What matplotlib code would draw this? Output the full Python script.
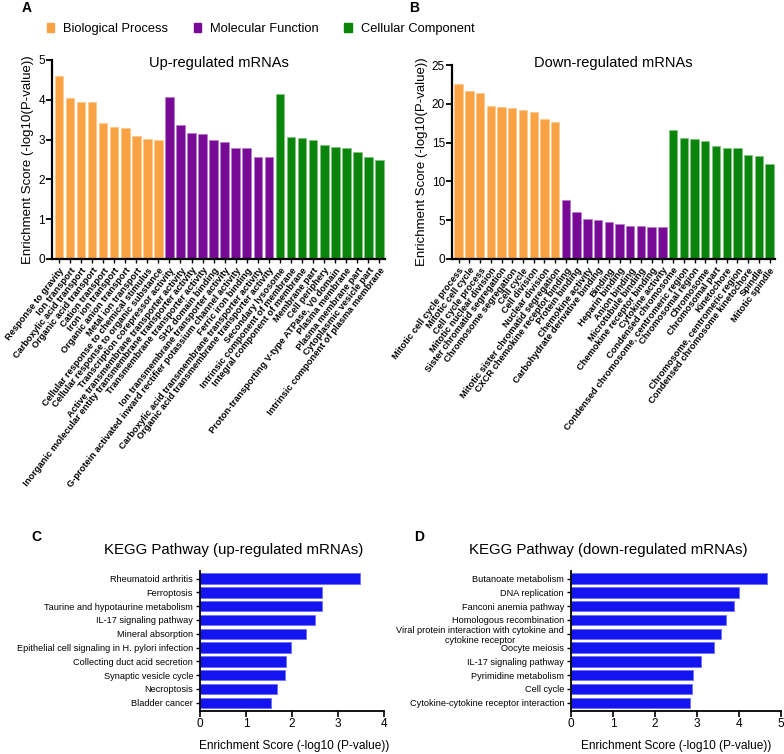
import matplotlib
matplotlib.use('Agg')
import matplotlib.pyplot as plt
from matplotlib.patches import Patch

plt.rcParams['font.family'] = ['Liberation Sans', 'DejaVu Sans']

# GO enrichment, up-regulated mRNAs (10 BP, 10 MF, 10 CC)
up_terms = [
    'Response to gravity', 'Ion transport', 'Carboxylic acid transport',
    'Organic acid transport', 'Cation transport', 'Iron ion transport',
    'Organic anion transport', 'Metal ion transport',
    'Cellular response to chemical stimulus', 'Cellular response to organic substance',
    'Transcription corepressor activity', 'Active transmembrane transporter activity',
    'Inorganic molecular entity transmembrane transporter activity',
    'Transmembrane transporter activity', 'SH2 domain binding',
    'Ion transmembrane transporter activity',
    'G-protein activated inward rectifier potassium channel activity',
    'Ferric iron binding', 'Carboxylic acid transmembrane transporter activity',
    'Organic acid transmembrane transporter activity',
    'Secondary lysosome', 'Intrinsic component of membrane',
    'Integral component of membrane', 'Membrane part', 'Cell periphery',
    'Proton-transporting V-type ATPase, V0 domain', 'Plasma membrane',
    'Plasma membrane part', 'Cytoplasmic vesicle part',
    'Intrinsic component of plasma membrane']
up_scores = [4.60, 4.04, 3.94, 3.94, 3.41, 3.31, 3.29, 3.09, 3.01, 2.99,
             4.07, 3.36, 3.17, 3.15, 2.99, 2.95, 2.80, 2.80, 2.57, 2.57,
             4.15, 3.06, 3.04, 2.99, 2.86, 2.82, 2.79, 2.68, 2.56, 2.48]

# GO enrichment, down-regulated mRNAs
down_terms = [
    'Mitotic cell cycle process', 'Mitotic cell cycle', 'Cell cycle process',
    'Mitotic nuclear division', 'Sister chromatid segregation',
    'Chromosome segregation', 'Cell cycle', 'Cell division', 'Nuclear division',
    'Mitotic sister chromatid segregation',
    'CXCR chemokine receptor binding', 'Protein binding', 'Chemokine activity',
    'Carbohydrate derivative binding', 'Binding', 'Heparin binding',
    'Anion binding', 'Microtubule binding', 'Chemokine receptor binding',
    'Cytokine activity',
    'Condensed chromosome', 'Condensed chromosome, centromeric region',
    'Chromosomal region', 'Chromosome', 'Chromosomal part', 'Kinetochore',
    'Chromosome, centromeric region', 'Condensed chromosome kinetochore',
    'Spindle', 'Mitotic spindle']
down_scores = [22.6, 21.6, 21.4, 19.7, 19.65, 19.5, 19.2, 19.0, 18.0, 17.7,
               7.6, 6.0, 5.2, 5.05, 4.75, 4.55, 4.3, 4.3, 4.15, 4.15,
               16.6, 15.6, 15.5, 15.2, 14.5, 14.3, 14.25, 13.4, 13.3, 12.2]

go_groups = ['Biological Process', 'Molecular Function', 'Cellular Component']
group_sizes = [10, 10, 10]
group_colors = ['#FBA344', '#790A98', '#0A840A']
group_edges = ['#FDC88C', '#B77FCC', '#7FC57F']

# KEGG pathways
kegg_up_terms = ['Rheumatoid arthritis', 'Ferroptosis',
                 'Taurine and hypotaurine metabolism', 'IL-17 signaling pathway',
                 'Mineral absorption', 'Epithelial cell signaling in H. pylori infection',
                 'Collecting duct acid secretion', 'Synaptic vesicle cycle',
                 'Necroptosis', 'Bladder cancer']
kegg_up_scores = [3.47, 2.65, 2.65, 2.51, 2.31, 1.97, 1.87, 1.84, 1.67, 1.54]

kegg_down_terms = ['Butanoate metabolism', 'DNA replication',
                   'Fanconi anemia pathway', 'Homologous recombination',
                   'Viral protein interaction with cytokine and\ncytokine receptor',
                   'Oocyte meiosis', 'IL-17 signaling pathway',
                   'Pyrimidine metabolism', 'Cell cycle',
                   'Cytokine-cytokine receptor interaction']
kegg_down_scores = [4.66, 4.00, 3.87, 3.68, 3.57, 3.40, 3.10, 2.90, 2.89, 2.83]

W, H = 784, 754
fig = plt.figure(figsize=(W / 100, H / 100), dpi=100)


def px_axes(x0, y0, x1, y1):
    # axes from pixel box (top-left origin)
    return fig.add_axes([x0 / W, 1 - y1 / H, (x1 - x0) / W, (y1 - y0) / H])


def go_panel(ax, terms, scores, ymax, yticks, title, title_y, rot):
    colors, edges = [], []
    for c, e, n in zip(group_colors, group_edges, group_sizes):
        colors += [c] * n
        edges += [e] * n
    x = list(range(len(terms)))
    ax.bar(x, scores, width=0.78, color=colors, edgecolor=edges, linewidth=0.6)
    ax.set_xlim(-0.62, len(terms) - 0.5)
    ax.set_ylim(0, ymax)
    ax.set_yticks(yticks)
    ax.set_xticks(x)
    ax.set_xticklabels(terms, rotation=rot, ha='right', rotation_mode='anchor',
                       fontsize=6.7, fontweight='bold')
    ax.tick_params(axis='y', labelsize=8.5, length=4, width=1.3, pad=1)
    ax.tick_params(axis='x', length=3, width=1, pad=2)
    for s in ['top', 'right']:
        ax.spines[s].set_visible(False)
    for s in ['left', 'bottom']:
        ax.spines[s].set_linewidth(1.6)
    ax.set_ylabel('Enrichment Score (-log10(P-value))', fontsize=9.5, labelpad=3)
    ax.text(0.5, title_y, title, transform=ax.transAxes, ha='center',
            va='center', fontsize=10.5)


def kegg_panel(ax, terms, scores, xmax, title, title_x, label_x):
    y = list(range(len(terms)))
    ax.barh(y, scores, height=0.75, color='#1414F0', edgecolor='#6F6FF8',
            linewidth=0.6)
    ax.set_ylim(len(terms) - 0.4, -0.55)
    ax.set_xlim(0, xmax)
    ax.set_xticks(range(xmax + 1))
    ax.set_yticks(y)
    ax.set_yticklabels(terms, fontsize=6.55)
    ax.tick_params(axis='y', length=3, width=1, pad=2)
    ax.tick_params(axis='x', labelsize=8.5, length=4, width=1.2, pad=1)
    for s in ['top', 'right']:
        ax.spines[s].set_visible(False)
    for s in ['left', 'bottom']:
        ax.spines[s].set_linewidth(1.3)
    fig.text(label_x / W, 1 - 746 / H, 'Enrichment Score (-log10 (P-value))',
             fontsize=8.6, ha='center', va='center')
    fig.text(title_x / W, 1 - 550 / H, title, fontsize=10.8, ha='center',
             va='center')


axA = px_axes(52, 60, 385, 259)
go_panel(axA, up_terms, up_scores, 5, range(6), 'Up-regulated mRNAs', 0.985, 52)

axB = px_axes(452, 65, 775, 259)
go_panel(axB, down_terms, down_scores, 25, range(0, 26, 5),
         'Down-regulated mRNAs', 1.01, 53)

axC = px_axes(200, 571, 384, 711)
kegg_panel(axC, kegg_up_terms, kegg_up_scores, 4,
           'KEGG Pathway (up-regulated mRNAs)', 234, 294)

axD = px_axes(571, 571, 781, 711)
kegg_panel(axD, kegg_down_terms, kegg_down_scores, 5,
           'KEGG Pathway (down-regulated mRNAs)', 608, 676)
for lab in axD.get_yticklabels():
    if '\n' in lab.get_text():
        lab.set_multialignment('center')

handles = [Patch(facecolor=c, edgecolor=c) for c in group_colors]
fig.legend(handles, go_groups, loc='center left', bbox_to_anchor=(35 / W, 1 - 29 / H),
           ncol=3, frameon=False, fontsize=9.3, handlelength=0.6,
           handleheight=0.6, handletextpad=0.7, columnspacing=1.95)

for letter, (px, py) in zip('ABCD', [(27, 8), (414, 8), (36, 537), (419, 537)]):
    fig.text(px / W, 1 - py / H, letter, fontsize=10, fontweight='bold',
             ha='center', va='center')

fig.savefig('out.png', dpi=100)
